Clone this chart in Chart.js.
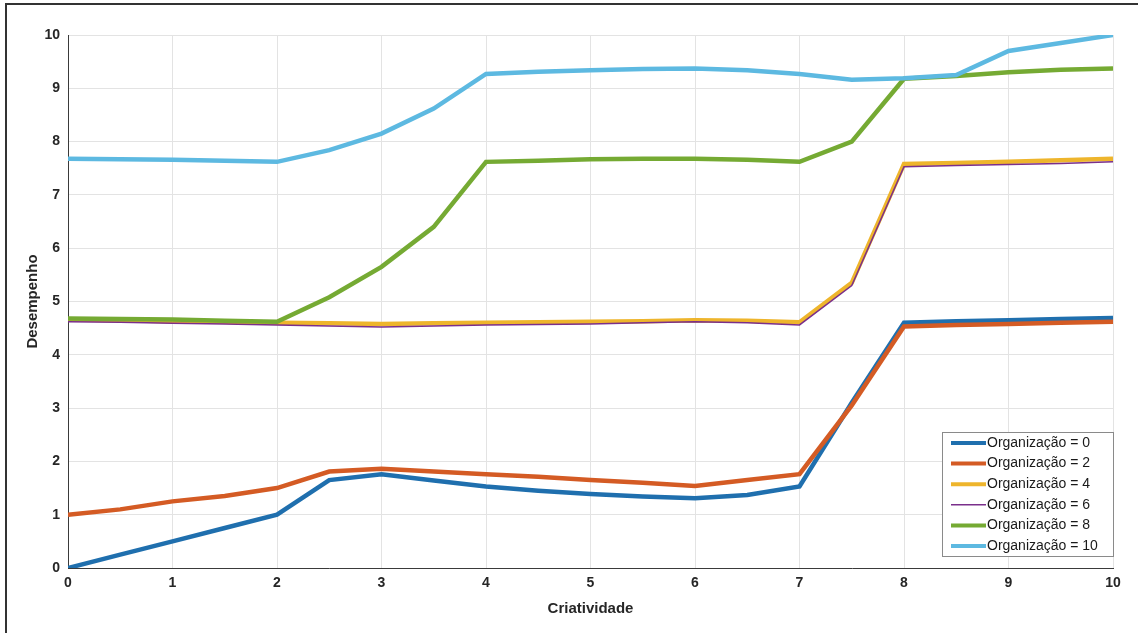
<!DOCTYPE html>
<html>
<head>
<meta charset="utf-8">
<script src="https://cdn.jsdelivr.net/npm/chart.js@4.4.0/dist/chart.umd.min.js"></script>
<style>
    html, body { margin: 0; padding: 0; background: #fff; }
    #wrap { position: relative; width: 1138px; height: 633px; }
    #frame { position: absolute; left: 5px; top: 3px; width: 1140px; height: 640px;
             border-left: 2px solid #333; border-top: 2px solid #333; pointer-events: none; }
</style>
</head>
<body>
<div id="wrap">
    <canvas id="chart" width="1138" height="633"></canvas>
    <div id="frame"></div>
</div>
<script>
const criatividade = [0, 0.5, 1, 1.5, 2, 2.5, 3, 3.5, 4, 4.5, 5, 5.5, 6, 6.5, 7, 7.5, 8, 8.5, 9, 9.5, 10];

const org0  = [0, 0.25, 0.5, 0.75, 1.0, 1.65, 1.76, 1.64, 1.53, 1.45, 1.39, 1.34, 1.31, 1.37, 1.53, 3.1, 4.6, 4.63, 4.65, 4.67, 4.69];
const org2  = [1.0, 1.1, 1.25, 1.35, 1.5, 1.81, 1.86, 1.81, 1.76, 1.71, 1.65, 1.6, 1.54, 1.65, 1.76, 3.05, 4.53, 4.56, 4.58, 4.6, 4.62];
const org4  = [4.66, 4.65, 4.63, 4.62, 4.6, 4.59, 4.58, 4.59, 4.6, 4.61, 4.62, 4.63, 4.65, 4.64, 4.61, 5.35, 7.58, 7.6, 7.62, 7.65, 7.68];
const org6  = [4.62, 4.61, 4.59, 4.58, 4.56, 4.54, 4.52, 4.54, 4.56, 4.57, 4.58, 4.6, 4.62, 4.6, 4.56, 5.3, 7.53, 7.55, 7.57, 7.59, 7.62];
const org8  = [4.68, 4.67, 4.66, 4.64, 4.62, 5.08, 5.65, 6.4, 7.62, 7.64, 7.67, 7.68, 7.68, 7.66, 7.62, 8.0, 9.18, 9.23, 9.3, 9.35, 9.37];
const org10 = [7.68, 7.67, 7.66, 7.64, 7.62, 7.84, 8.15, 8.62, 9.27, 9.31, 9.34, 9.36, 9.37, 9.34, 9.27, 9.16, 9.19, 9.25, 9.7, 9.85, 10.0];

const seriesLabels = ['Organização = 0', 'Organização = 2', 'Organização = 4', 'Organização = 6', 'Organização = 8', 'Organização = 10'];
const seriesData = [org0, org2, org4, org6, org8, org10];
const seriesColors = ['#1f6fae', '#d45b24', '#eeb52c', '#7a2f8b', '#75aa33', '#5db9e1'];
const seriesWidths = [4.5, 4.5, 4.5, 1.5, 4.5, 4.5];

const xTicks = [0, 1, 2, 3, 4, 5, 6, 7, 8, 9, 10];
const yTicks = [0, 1, 2, 3, 4, 5, 6, 7, 8, 9, 10];

const FONT = '"Liberation Sans", Arial, sans-serif';

const datasets = seriesData.map((vals, i) => ({
    label: seriesLabels[i],
    data: vals.map((v, j) => ({ x: criatividade[j], y: v })),
    borderColor: seriesColors[i],
    backgroundColor: seriesColors[i],
    borderWidth: seriesWidths[i],
    pointRadius: 0,
    tension: 0,
    order: seriesData.length - i
}));

// legend box inside the plot, bottom right like the original
const insideLegend = {
    id: 'insideLegend',
    afterDatasetsDraw(chart) {
        const ctx = chart.ctx;
        const area = chart.chartArea;
        const w = 171, rowH = 20.6;
        const h = 124;
        const x0 = area.right - w;
        const y0 = area.bottom - 12 - h;
        ctx.save();
        ctx.fillStyle = '#fff';
        ctx.fillRect(x0, y0, w, h);
        ctx.strokeStyle = '#8a8a8a';
        ctx.lineWidth = 1;
        ctx.strokeRect(x0 + 0.5, y0 + 0.5, w, h);
        ctx.font = '14px ' + FONT;
        ctx.textBaseline = 'middle';
        chart.data.datasets.forEach((ds, i) => {
            const y = y0 + 11 + i * rowH;
            ctx.strokeStyle = ds.borderColor;
            ctx.lineWidth = Math.min(ds.borderWidth, 4);
            ctx.beginPath();
            ctx.moveTo(x0 + 9, y);
            ctx.lineTo(x0 + 44, y);
            ctx.stroke();
            ctx.fillStyle = '#1a1a1a';
            ctx.fillText(ds.label, x0 + 45, y);
        });
        ctx.restore();
    }
};

new Chart(document.getElementById('chart').getContext('2d'), {
    type: 'line',
    data: { datasets },
    options: {
        responsive: false,
        animation: false,
        layout: { padding: { left: 0, top: 35, right: 25, bottom: 0 } },
        plugins: {
            legend: { display: false },
            tooltip: { enabled: false }
        },
        scales: {
            x: {
                type: 'linear',
                min: 0,
                max: 10,
                afterBuildTicks: (scale) => { scale.ticks = xTicks.map(v => ({ value: v })); },
                afterFit: (scale) => { scale.height = 65; },
                grid: { color: '#e3e3e3', drawTicks: false },
                border: { color: '#3a3a3a', width: 1 },
                ticks: { padding: 7, color: '#262626', font: { family: FONT, size: 14, weight: 'bold' } },
                title: {
                    display: true,
                    text: 'Criatividade',
                    color: '#262626',
                    padding: { top: 4, bottom: 15 },
                    font: { family: FONT, size: 15, weight: 'bold' }
                }
            },
            y: {
                min: 0,
                max: 10,
                afterBuildTicks: (scale) => { scale.ticks = yTicks.map(v => ({ value: v })); },
                afterFit: (scale) => { scale.width = 68; },
                grid: { color: '#e3e3e3', drawTicks: false },
                border: { color: '#3a3a3a', width: 1 },
                ticks: { padding: 8, color: '#262626', font: { family: FONT, size: 14, weight: 'bold' } },
                title: {
                    display: true,
                    text: 'Desempenho',
                    color: '#262626',
                    padding: { top: 24, bottom: 0 },
                    font: { family: FONT, size: 15, weight: 'bold' }
                }
            }
        }
    },
    plugins: [insideLegend]
});
</script>
</body>
</html>
